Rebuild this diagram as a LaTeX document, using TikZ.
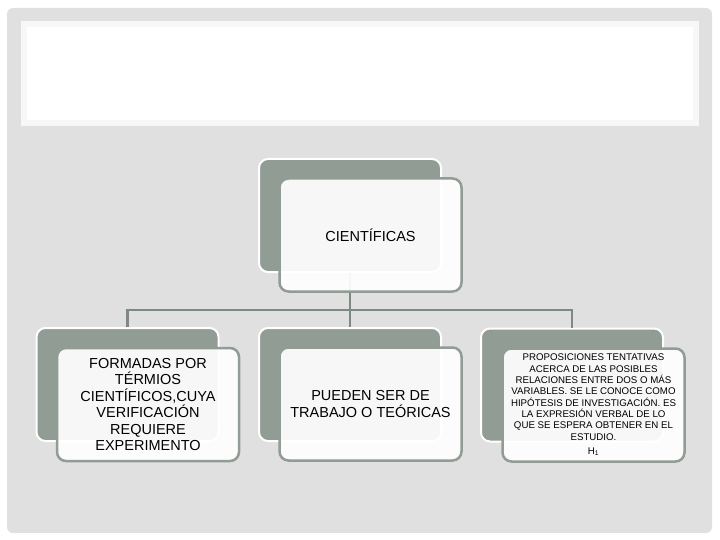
\documentclass[tikz,border=0pt]{standalone}
\usepackage{fontspec}
\setmainfont{Liberation Sans}
\definecolor{slidegrey}{RGB}{224,224,224}
\definecolor{titleedge}{RGB}{247,247,247}
\definecolor{sage}{RGB}{145,156,148}
\definecolor{sageline}{RGB}{125,137,130}
\begin{document}
\begin{tikzpicture}[x=1pt,y=-1pt,
    back/.style={rounded corners=9pt, fill=sage, draw=white, line width=2pt,
      minimum width=182pt, minimum height=113pt},
    front/.style={rounded corners=9pt, fill=white, fill opacity=0.92, text opacity=1,
      draw=sage, draw opacity=1, line width=2.5pt, text=black,
      minimum width=182pt, minimum height=113pt, align=center,
      font=\fontsize{14.5}{16.5}\selectfont},
    conn/.style={draw=sageline, line width=2.8pt}]
  \useasboundingbox (0,0) rectangle (720,540);
  \fill[slidegrey, rounded corners=6pt] (7,8) rectangle (712,533);
  \fill[white] (21,21) rectangle (699,126);
  \draw[titleedge, line width=6pt] (24,24) rectangle (696,123);
  \node[back] (topback) at (350,215.5) {};
  \node[back] (leftback) at (127.5,384.5) {};
  \node[back] (midback) at (350,384.5) {};
  \node[back] (rightback) at (572,385) {};
  \coordinate (bus) at (350,310);
  \begin{scope}[conn]
    \draw (topback.south) -- (bus);
    \draw (bus) -| (leftback.north);
    \draw (bus) -- (midback.north);
    \draw (bus) -| (rightback.north);
  \end{scope}
  \node[front] (top) at ([xshift=20.5pt,yshift=-19.5pt]topback) {CIENTÍFICAS};
  \node[front] (left) at ([xshift=20.5pt,yshift=-20pt]leftback)
    {FORMADAS POR\\TÉRMIOS\\CIENTÍFICOS,CUYA\\VERIFICACIÓN\\REQUIERE\\EXPERIMENTO};
  \node[front] (mid) at ([xshift=20.5pt,yshift=-19.5pt]midback)
    {PUEDEN SER DE\\TRABAJO O TEÓRICAS};
  \node[front, font=\fontsize{9.7}{11.3}\selectfont] (right) at ([xshift=21.5pt,yshift=-20pt]rightback)
    {PROPOSICIONES TENTATIVAS\\ACERCA DE LAS POSIBLES\\RELACIONES ENTRE DOS O MÁS\\VARIABLES. SE LE CONOCE COMO\\HIPÓTESIS DE INVESTIGACIÓN. ES\\LA EXPRESIÓN VERBAL DE LO\\QUE SE ESPERA OBTENER EN EL\\ESTUDIO.\\[3pt]H\textsubscript{1}};
\end{tikzpicture}
\end{document}
